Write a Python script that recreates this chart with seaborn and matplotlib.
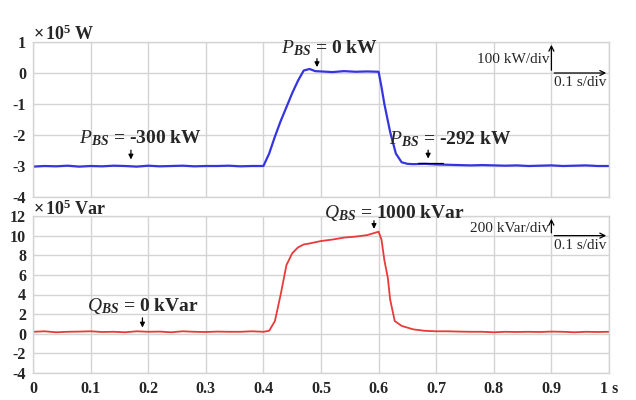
import matplotlib
matplotlib.use("Agg")
import matplotlib.pyplot as plt
import seaborn as sns
import pandas as pd

# ---- data ----
t_p = [0.0, 0.02, 0.04, 0.06, 0.08, 0.10, 0.12, 0.14, 0.16, 0.18, 0.20, 0.22, 0.24, 0.26,
       0.28, 0.30, 0.32, 0.34, 0.36, 0.38, 0.40, 0.41, 0.42, 0.43, 0.44, 0.45, 0.46, 0.47,
       0.48, 0.49, 0.50, 0.52, 0.54, 0.56, 0.58, 0.60, 0.605, 0.61, 0.62, 0.63, 0.64,
       0.65, 0.66, 0.68, 0.70, 0.72, 0.74, 0.76, 0.78, 0.80, 0.82, 0.84, 0.86, 0.88,
       0.90, 0.92, 0.94, 0.96, 0.98, 1.0]
p_val = [-3.02, -3.0, -3.01, -2.99, -3.02, -3.0, -3.01, -2.99, -3.0, -3.02, -2.99, -3.01,
         -3.0, -2.99, -3.01, -3.0, -3.0, -2.99, -3.01, -3.0, -3.0, -2.6, -2.05, -1.55,
         -1.1, -0.65, -0.25, 0.08, 0.13, 0.06, 0.05, 0.03, 0.06, 0.04, 0.05, 0.04, -0.45,
         -1.0, -1.9, -2.6, -2.88, -2.93, -2.94, -2.93, -2.95, -2.96, -2.97, -2.98, -2.97,
         -2.98, -2.99, -2.98, -3.0, -2.99, -2.98, -3.0, -2.99, -2.98, -3.0, -3.0]

t_q = [0.0, 0.02, 0.04, 0.06, 0.08, 0.10, 0.12, 0.14, 0.16, 0.18, 0.20, 0.22, 0.24, 0.26,
       0.28, 0.30, 0.32, 0.34, 0.36, 0.38, 0.40, 0.41, 0.42, 0.43, 0.44, 0.45, 0.46, 0.47,
       0.48, 0.50, 0.52, 0.54, 0.56, 0.58, 0.60, 0.605, 0.61, 0.616, 0.62, 0.628, 0.64,
       0.66, 0.68, 0.70, 0.72, 0.74, 0.76, 0.78, 0.80, 0.82, 0.84, 0.86, 0.88, 0.90,
       0.92, 0.94, 0.96, 0.98, 1.0]
q_val = [0.2, 0.25, 0.15, 0.2, 0.22, 0.25, 0.18, 0.2, 0.15, 0.25, 0.2, 0.22, 0.15, 0.25,
         0.2, 0.18, 0.22, 0.2, 0.2, 0.25, 0.2, 0.3, 1.3, 4.0, 7.0, 8.2, 8.8, 9.1, 9.2, 9.45,
         9.6, 9.8, 9.9, 10.05, 10.4, 9.6, 7.5, 5.7, 3.5, 1.3, 0.8, 0.45, 0.3, 0.25, 0.25,
         0.22, 0.2, 0.2, 0.15, 0.2, 0.18, 0.2, 0.18, 0.22, 0.2, 0.15, 0.2, 0.18, 0.2]

x_ticks = [0, 0.1, 0.2, 0.3, 0.4, 0.5, 0.6, 0.7, 0.8, 0.9, 1.0]
x_labels = ["0", "0.1", "0.2", "0.3", "0.4", "0.5", "0.6", "0.7", "0.8", "0.9", "1 s"]
p_ticks = [1, 0, -1, -2, -3, -4]
q_ticks = [12, 10, 8, 6, 4, 2, 0, -2, -4]

sns.set_theme(style="white")
plt.rcParams["font.family"] = ["Liberation Serif", "DejaVu Serif"]
plt.rcParams["mathtext.fontset"] = "custom"
plt.rcParams["mathtext.rm"] = "Liberation Serif"
plt.rcParams["mathtext.it"] = "Liberation Serif:italic"
plt.rcParams["mathtext.bf"] = "Liberation Serif:bold"
plt.rcParams["mathtext.bfit"] = "Liberation Serif:bold:italic"

fig = plt.figure(figsize=(6.36, 4.0), dpi=100)
W, H = 636, 400
def rect(x0, y0, x1, y1):
    return [x0 / W, 1 - y1 / H, (x1 - x0) / W, (y1 - y0) / H]

ax1 = fig.add_axes(rect(33, 42, 609, 197))
ax2 = fig.add_axes(rect(33, 216, 609, 373))

dfp = pd.DataFrame({"t": t_p, "v": p_val})
dfq = pd.DataFrame({"t": t_q, "v": q_val})
sns.lineplot(data=dfp, x="t", y="v", ax=ax1, color="#3535e0", linewidth=1.6)
sns.lineplot(data=dfq, x="t", y="v", ax=ax2, color="#e83a3a", linewidth=1.3)

grid_c = "#d4d4d4"
for ax, yt, ylim in [(ax1, p_ticks, (-4, 1)), (ax2, q_ticks, (-4, 12))]:
    ax.set_xlim(0, 1)
    ax.set_ylim(*ylim)
    ax.set_xticks(x_ticks)
    ax.set_yticks(yt)
    ax.set_yticklabels([str(v) for v in yt], fontsize=11.5, fontweight="bold")
    ax.grid(True, color=grid_c, linewidth=1.0)
    ax.set_axisbelow(True)
    ax.set_xlabel("")
    ax.set_ylabel("")
    for s in ax.spines.values():
        s.set_color(grid_c)
        s.set_linewidth(1.0)
    ax.tick_params(axis="both", length=0, pad=5)

ax1.set_xticklabels([])
ax2.set_xticklabels(x_labels, fontsize=11.5, fontweight="bold")
ax2.tick_params(axis="x", pad=6)

# unit labels
fig.text(33 / W, 1 - 34 / H, r"$\mathbf{\times\,10^{5}}$ W", fontsize=13,
         fontweight="bold", va="center", ha="left")
fig.text(33 / W, 1 - 209 / H, r"$\mathbf{\times\,10^{5}}$ Var", fontsize=13,
         fontweight="bold", va="center", ha="left")

arr = dict(arrowstyle="-|>", color="black", lw=0.9, mutation_scale=7)
txt = dict(fontsize=14, fontweight="bold", ha="center", va="center")

def note(ax, label, tx, ty, ax_x, y0, y1):
    ax.text(tx, ty, label, **txt)
    ax.annotate("", xy=(ax_x, y1), xytext=(ax_x, y0), arrowprops=arr)

note(ax1, r"$\mathit{P}_{\mathbfit{BS}}$ = -300 kW", 0.186, -2.1, 0.17, -2.4, -2.88)
note(ax1, r"$\mathit{P}_{\mathbfit{BS}}$ = 0 kW", 0.515, 0.8, 0.493, 0.55, 0.1)
note(ax1, r"$\mathit{P}_{\mathbfit{BS}}$ = -292 kW", 0.724, -2.15, 0.686, -2.4, -2.85)
ax1.plot([0.668, 0.712], [-2.91, -2.91], color="black", lw=0.9)
note(ax2, r"$\mathit{Q}_{\mathbfit{BS}}$ = 1000 kVar", 0.627, 12.3, 0.592, 11.8, 10.4)
note(ax2, r"$\mathit{Q}_{\mathbfit{BS}}$ = 0 kVar", 0.191, 2.8, 0.19, 1.9, 0.35)

# scale indicators
sarr = dict(arrowstyle="->", color="black", lw=0.9, mutation_scale=9)
ax1.annotate("", xy=(0.9, 1.0), xytext=(0.9, 0.0), arrowprops=sarr, annotation_clip=False)
ax1.annotate("", xy=(1.0, 0.0), xytext=(0.9, 0.0), arrowprops=sarr, annotation_clip=False)
ax1.text(0.897, 0.45, "100 kW/div", fontsize=11, ha="right", va="center")
ax1.text(0.905, -0.32, "0.1 s/div", fontsize=11, ha="left", va="center")

ax2.annotate("", xy=(0.9, 12.0), xytext=(0.9, 10.0), arrowprops=sarr, annotation_clip=False)
ax2.annotate("", xy=(1.0, 10.0), xytext=(0.9, 10.0), arrowprops=sarr, annotation_clip=False)
ax2.text(0.897, 10.75, "200 kVar/div", fontsize=11, ha="right", va="center")
ax2.text(0.905, 9.0, "0.1 s/div", fontsize=11, ha="left", va="center")

fig.savefig("out.png", dpi=100, facecolor="white")
